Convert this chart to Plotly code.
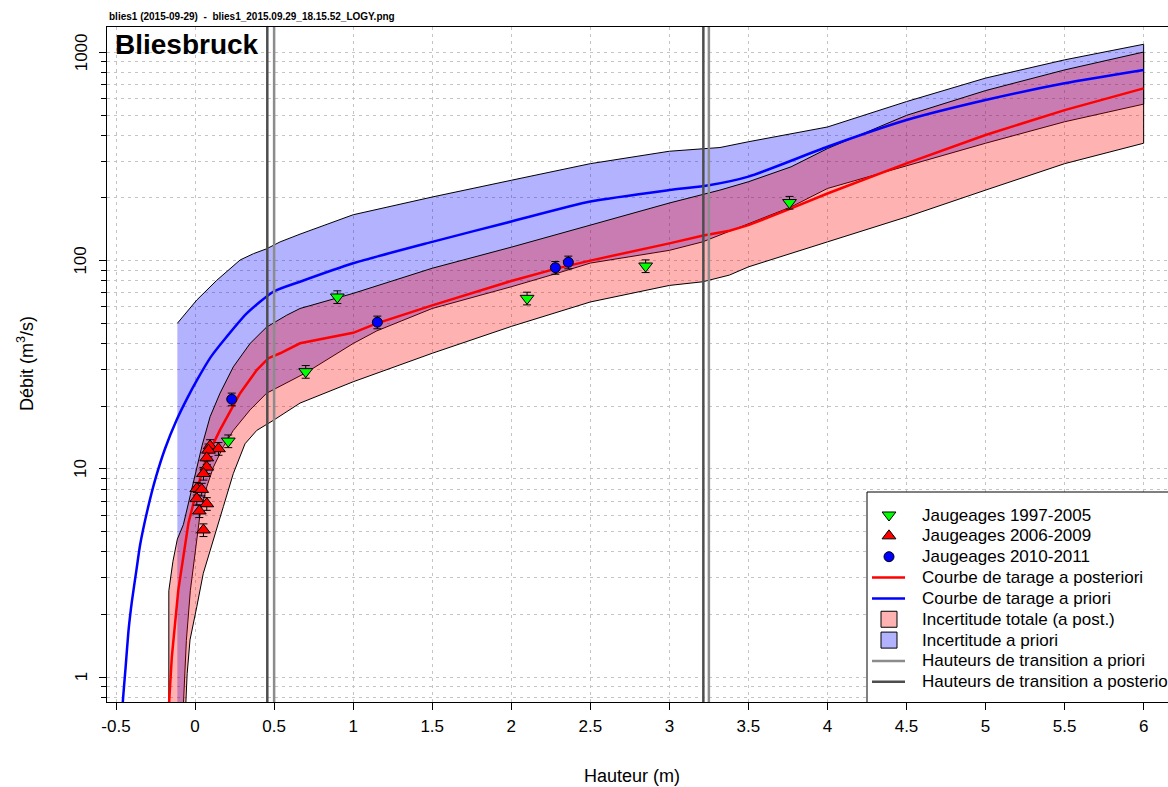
import math
import plotly.graph_objects as go

# ---------------- data ----------------
# Gaugings
G1_H = [0.21, 0.70, 0.90, 2.10, 2.85, 3.76]            # Jaugeages 1997-2005
G1_Q = [13.6, 29.3, 66.9, 65.9, 94.2, 190.0]
G2_H = [0.095, 0.148, 0.085, 0.074, 0.074, 0.053, 0.011, 0.042, 0.011, 0.074, 0.027, 0.053]  # 2006-2009
G2_Q = [12.9, 12.5, 12.3, 11.3, 10.2, 9.5, 8.05, 7.97, 7.2, 6.8, 6.28, 5.09]
G3_H = [0.232, 1.153, 2.279, 2.361]                     # 2010-2011
G3_Q = [21.6, 50.6, 92.5, 98.2]
GAUGE_UNC = 0.07   # relative half-width of the gauging error bars

# Posterior rating curve (MAP)
POST_H = [-0.168, -0.164, -0.147, -0.126, -0.106, -0.074, -0.042, 0.011, 0.074, 0.158, 0.285, 0.39, 0.464,
          0.538, 0.664, 1.0, 1.15, 1.5, 2.0, 2.29, 2.5, 3.0, 3.215, 3.38, 3.5, 3.77, 4.0, 4.5, 5.0, 5.5, 6.0]
POST_Q = [0.6, 0.76, 1.25, 1.81, 2.62, 3.79, 5.48, 7.92, 11.4, 15.4, 23.1, 29.8, 34.0,
          35.9, 40.1, 45.0, 50.0, 61.0, 79.8, 91.8, 100.0, 121, 132, 139, 148, 178, 210, 293, 401, 528, 671]

# Prior rating curve (MAP)
PRIOR_H = [-0.465, -0.457, -0.44, -0.42, -0.40, -0.37, -0.348, -0.30, -0.25, -0.19, -0.116, -0.05, 0.011, 0.1,
           0.2, 0.327, 0.495, 0.664, 1.0, 1.5, 2.0, 2.5, 3.0, 3.25, 3.5, 4.0, 4.5, 5.0, 5.5, 6.0]
PRIOR_Q = [0.55, 0.76, 1.1, 1.7, 2.3, 3.3, 4.3, 6.4, 9.0, 12.5, 17.2, 21.8, 26.6, 34.5,
           43.1, 55.8, 70.9, 79.2, 97.1, 123, 154, 192, 218, 230, 253, 352, 473, 590, 710, 822]

# Posterior total uncertainty band
POST_UP_H = [-0.166, -0.166, -0.14, -0.112, -0.074, -0.042, 0.0, 0.045, 0.095, 0.158, 0.242, 0.348, 0.453, 0.58,
             0.664, 1.0, 1.5, 2.0, 2.5, 3.0, 3.32, 3.5, 3.77, 4.0, 4.5, 5.0, 5.5, 6.0]
POST_UP_Q = [0.3, 2.6, 3.6, 4.6, 5.4, 6.8, 9.5, 13.0, 17.8, 23.1, 30.9, 40.0, 48.0, 54.7,
             58.9, 69.6, 91.9, 116, 148, 189, 218, 239, 282, 345, 498, 655, 823, 1003]
POST_LO_H = [-0.07, -0.058, -0.05, -0.032, 0.011, 0.052, 0.116, 0.179, 0.242, 0.316, 0.39, 0.495, 0.664, 1.0,
             1.5, 2.0, 2.5, 3.0, 3.21, 3.38, 3.5, 4.0, 4.5, 5.0, 5.5, 6.0]
POST_LO_Q = [0.3, 0.76, 1.04, 1.51, 2.18, 3.15, 4.55, 6.59, 9.5, 13.2, 15.3, 17.1, 20.7, 26.2,
             35.9, 48.3, 63.3, 76.0, 79.1, 85.2, 93.3, 123, 162, 218, 292, 366]

# Prior uncertainty band
PRIOR_UP_H = [-0.112, 0.011, 0.137, 0.285, 0.37, 0.453, 0.538, 0.664, 1.0, 1.5, 2.0, 2.5, 3.0, 3.32, 3.5, 4.0,
              4.5, 5.0, 5.5, 6.0]
PRIOR_UP_Q = [50, 64.7, 80.4, 100.7, 108, 114, 123, 134, 166, 202, 243, 292, 335, 349, 372, 438,
              580, 752, 920, 1093]
PRIOR_LO_H = [-0.112, -0.09, -0.076, -0.055, -0.03, 0.011, 0.032, 0.074, 0.116, 0.179, 0.242, 0.348, 0.453,
              0.696, 1.0, 1.15, 1.5, 2.0, 2.29, 2.5, 3.0, 3.21, 3.32, 3.5, 3.77, 4.0, 4.5, 5.0, 5.5, 6.0]
PRIOR_LO_Q = [0.3, 0.4, 0.76, 1.5, 2.6, 4.55, 6.1, 8.2, 10.2, 12.8, 15.3, 19.2, 23.1,
              28.8, 40, 46, 58.9, 74.9, 86.9, 97.3, 112, 123, 133, 150, 181, 222, 284, 366, 464, 564]

# Transition heights
TRANS_PRIOR = [0.5, 3.25]
TRANS_POST = [0.457, 3.215]

# Axis ticks
X_TICKS = [-0.5, 0, 0.5, 1, 1.5, 2, 2.5, 3, 3.5, 4, 4.5, 5, 5.5, 6]
X_TICKTEXT = ["-0.5", "0", "0.5", "1", "1.5", "2", "2.5", "3", "3.5", "4", "4.5", "5", "5.5", "6"]
Y_TICKS = [1, 10, 100, 1000]
Y_TICKTEXT = ["1", "10", "100", "1000"]

LEGEND_LABELS = ["Jaugeages 1997-2005", "Jaugeages 2006-2009", "Jaugeages 2010-2011",
                 "Courbe de tarage a posteriori", "Courbe de tarage a priori",
                 "Incertitude totale (a post.)", "Incertitude a priori",
                 "Hauteurs de transition a priori", "Hauteurs de transition a posteriori"]

# ---------------- styles / layout constants ----------------
FONT = "Liberation Sans, Arial, sans-serif"
W, H = 1168, 787
PL, PT, PB = 107, 27, 702          # plot area edges (px)
PW, PH = W - PL, PB - PT
X_RANGE = [-0.557, 6.154]
Y_RANGE = [-0.1191, 3.1215]        # log10
PINK = "rgba(255,0,0,0.30)"
LAV = "rgba(0,0,255,0.30)"
C_PRIOR_TR = "#8C8C8C"
C_POST_TR = "#4D4D4D"
GRID = "#C4C4C4"
YLAB_X = 81                        # px centre of the rotated y tick labels


def px_to_paper_x(px):
    return (px - PL) / PW


def py_to_paper_y(py):
    return (PB - py) / PH


fig = go.Figure()


def band(h_up, q_up, h_lo, q_lo, fill):
    return go.Scatter(x=list(h_up) + list(h_lo)[::-1], y=list(q_up) + list(q_lo)[::-1],
                      mode="lines", fill="toself", fillcolor=fill,
                      line=dict(color="black", width=1), hoverinfo="skip", showlegend=False)


fig.add_trace(band(PRIOR_UP_H, PRIOR_UP_Q, PRIOR_LO_H, PRIOR_LO_Q, LAV))
fig.add_trace(band(POST_UP_H, POST_UP_Q, POST_LO_H, POST_LO_Q, PINK))
fig.add_trace(go.Scatter(x=PRIOR_H, y=PRIOR_Q, mode="lines",
                         line=dict(color="#0000FF", width=2.5, shape="spline", smoothing=0.6),
                         showlegend=False))
fig.add_trace(go.Scatter(x=POST_H, y=POST_Q, mode="lines", line=dict(color="#FF0000", width=2.5),
                         showlegend=False))


def gauge(h, q, symbol, color, size):
    return go.Scatter(x=h, y=q, mode="markers",
                      marker=dict(symbol=symbol, color=color, size=size, line=dict(color="black", width=1)),
                      error_y=dict(type="data", array=[v * GAUGE_UNC for v in q], color="black",
                                   thickness=1, width=4),
                      showlegend=False)


fig.add_trace(gauge(G1_H, G1_Q, "triangle-down", "#00FF00", 12))
fig.add_trace(gauge(G2_H, G2_Q, "triangle-up", "#FF0000", 12))
fig.add_trace(gauge(G3_H, G3_Q, "circle", "#0000FF", 10))

# ---------------- manual legend (pixel overlay axes) ----------------
LX0, LY0 = 867, 492
ROW_Y = [515 + i * 20.85 for i in range(9)]
SYM_X = 889
LINE_X = [872, 905]
TEXT_X = 920

fig.add_trace(go.Scatter(x=[LX0, 1200, 1200, LX0, LX0], y=[LY0, LY0, PB + 2, PB + 2, LY0],
                         xaxis="x2", yaxis="y2", mode="lines", fill="toself", fillcolor="white",
                         line=dict(color="black", width=1), hoverinfo="skip", showlegend=False))
leg_markers = [("triangle-down", "#00FF00", 12), ("triangle-up", "#FF0000", 12), ("circle", "#0000FF", 10)]
for i, (sym, col, sz) in enumerate(leg_markers):
    fig.add_trace(go.Scatter(x=[SYM_X], y=[ROW_Y[i]], xaxis="x2", yaxis="y2", mode="markers",
                             marker=dict(symbol=sym, color=col, size=sz, line=dict(color="black", width=1)),
                             hoverinfo="skip", showlegend=False))
for i, col in zip([3, 4, 7, 8], ["#FF0000", "#0000FF", C_PRIOR_TR, C_POST_TR]):
    fig.add_trace(go.Scatter(x=LINE_X, y=[ROW_Y[i], ROW_Y[i]], xaxis="x2", yaxis="y2", mode="lines",
                             line=dict(color=col, width=2.5), hoverinfo="skip", showlegend=False))
for i, col in zip([5, 6], [PINK, LAV]):
    fig.add_trace(go.Scatter(x=[SYM_X], y=[ROW_Y[i]], xaxis="x2", yaxis="y2", mode="markers",
                             marker=dict(symbol="square", color=col, size=16, line=dict(color="black", width=1)),
                             hoverinfo="skip", showlegend=False))

annotations = []
for i, lab in enumerate(LEGEND_LABELS):
    annotations.append(dict(x=TEXT_X, y=ROW_Y[i], xref="x2", yref="y2", text=lab, showarrow=False,
                            xanchor="left", yanchor="middle", font=dict(family=FONT, size=17, color="black")))

# rotated y tick labels
for v, t in zip(Y_TICKS, Y_TICKTEXT):
    annotations.append(dict(x=px_to_paper_x(YLAB_X), y=math.log10(v), xref="paper", yref="y", text=t,
                            textangle=-90, showarrow=False, xanchor="center", yanchor="middle",
                            font=dict(family=FONT, size=17, color="black")))

annotations += [
    dict(x=0, y=py_to_paper_y(16), xref="paper", yref="paper", xanchor="left", yanchor="middle", showarrow=False,
         text="<b>blies1 (2015-09-29)\u00a0\u00a0-\u00a0\u00a0blies1_2015.09.29_18.15.52_LOGY.png</b>",
         font=dict(family=FONT, size=10, color="black")),
    dict(x=px_to_paper_x(113), y=py_to_paper_y(44), xref="paper", yref="paper", xanchor="left",
         yanchor="middle", showarrow=False, text="<b>Bliesbruck</b>",
         font=dict(family=FONT, size=28, color="black")),
    dict(x=px_to_paper_x(632), y=py_to_paper_y(776), xref="paper", yref="paper", xanchor="center",
         yanchor="middle", showarrow=False, text="Hauteur (m)", font=dict(family=FONT, size=18, color="black")),
    dict(x=px_to_paper_x(25), y=py_to_paper_y(364), xref="paper", yref="paper", xanchor="center",
         yanchor="middle", showarrow=False, text="Débit (m<sup>3</sup>/s)", textangle=-90,
         font=dict(family=FONT, size=18, color="black")),
]

shapes = []
for h in TRANS_PRIOR:
    shapes.append(dict(type="line", xref="x", yref="paper", x0=h, x1=h, y0=0, y1=1,
                       line=dict(color=C_PRIOR_TR, width=2.5)))
for h in TRANS_POST:
    shapes.append(dict(type="line", xref="x", yref="paper", x0=h, x1=h, y0=0, y1=1,
                       line=dict(color=C_POST_TR, width=2.5)))

minor_vals = [m * 10 ** e for e in range(-1, 4) for m in range(2, 10)]

fig.update_layout(
    width=W, height=H,
    margin=dict(l=PL, r=0, t=PT, b=H - PB, pad=0),
    paper_bgcolor="white", plot_bgcolor="white",
    font=dict(family=FONT, color="black"),
    showlegend=False,
    xaxis=dict(range=X_RANGE, tickvals=X_TICKS, ticktext=X_TICKTEXT, ticks="outside", ticklen=7,
               tickcolor="black", tickwidth=1, tickfont=dict(size=17, color="black"), ticklabelstandoff=2,
               showline=True, linecolor="black", linewidth=1, mirror=True, zeroline=False,
               showgrid=True, gridcolor=GRID, gridwidth=1, griddash="3px,4px"),
    yaxis=dict(type="log", range=Y_RANGE, tickvals=Y_TICKS, ticks="outside", ticklen=7,
               tickcolor="black", tickwidth=1, showticklabels=False,
               showline=True, linecolor="black", linewidth=1, mirror=False, zeroline=False,
               showgrid=True, gridcolor=GRID, gridwidth=1, griddash="3px,4px",
               minor=dict(tickvals=minor_vals, ticks="outside", ticklen=5, tickcolor="black",
                          showgrid=True, gridcolor=GRID, gridwidth=1, griddash="3px,4px")),
    xaxis2=dict(range=[PL, W], overlaying="x", anchor="y2", visible=False, fixedrange=True),
    yaxis2=dict(range=[PB, PT], overlaying="y", anchor="x2", visible=False, fixedrange=True),
    shapes=shapes,
    annotations=annotations,
)

fig.write_html("out.html")
